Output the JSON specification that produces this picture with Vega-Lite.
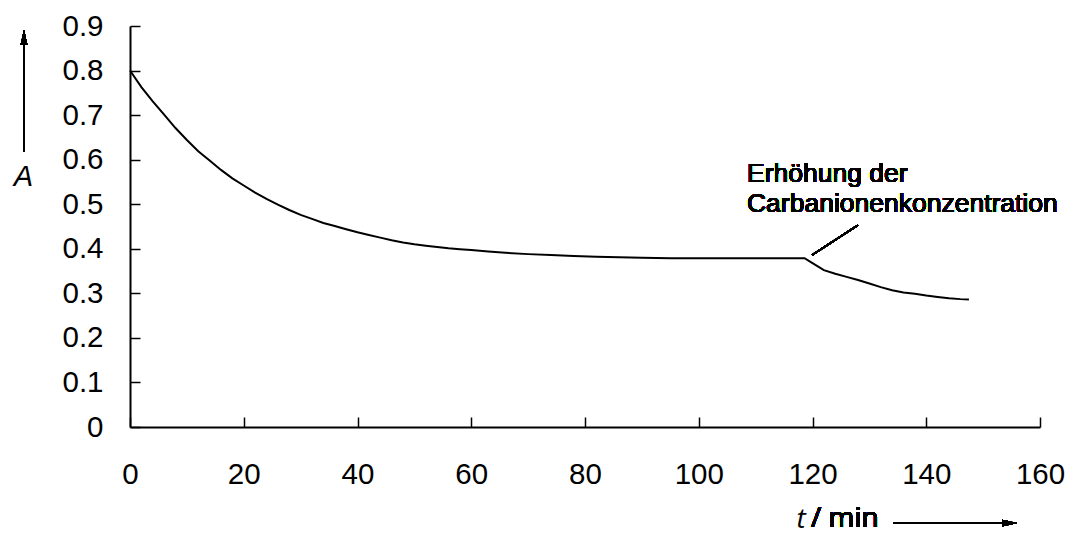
{
  "$schema": "https://vega.github.io/schema/vega-lite/v6.json",
  "width": 910,
  "height": 401,
  "autosize": {"type": "none"},
  "padding": {"left": 130, "top": 26, "right": 29, "bottom": 108},
  "background": "white",
  "config": {
    "view": {"stroke": null},
    "font": "Liberation Sans",
    "axis": {
      "grid": false,
      "domainColor": "black",
      "domainWidth": 2,
      "tickColor": "black",
      "tickWidth": 1.5,
      "tickSize": -10,
      "labelColor": "black",
      "labelFont": "Liberation Sans",
      "labelFontSize": 29.5,
      "labelFlush": false,
      "labelOverlap": false,
      "titleColor": "black",
      "titleFont": "Liberation Sans",
      "titleFontSize": 29,
      "titleFontWeight": "normal",
      "titleFontStyle": "italic"
    }
  },
  "data": {
    "values": [
      {"t": 0, "A": 0.800}, {"t": 2, "A": 0.763}, {"t": 4, "A": 0.731}, {"t": 6, "A": 0.701},
      {"t": 8, "A": 0.671}, {"t": 10, "A": 0.644}, {"t": 12, "A": 0.619}, {"t": 14, "A": 0.598},
      {"t": 16, "A": 0.577}, {"t": 18, "A": 0.558}, {"t": 20, "A": 0.542}, {"t": 22, "A": 0.526},
      {"t": 24, "A": 0.512}, {"t": 26, "A": 0.499}, {"t": 28, "A": 0.487}, {"t": 30, "A": 0.476},
      {"t": 32, "A": 0.467}, {"t": 34, "A": 0.458}, {"t": 36, "A": 0.451}, {"t": 38, "A": 0.444},
      {"t": 40, "A": 0.437}, {"t": 42, "A": 0.431}, {"t": 44, "A": 0.425}, {"t": 46, "A": 0.419},
      {"t": 48, "A": 0.414}, {"t": 50, "A": 0.410}, {"t": 52, "A": 0.407}, {"t": 54, "A": 0.404},
      {"t": 56, "A": 0.401}, {"t": 58, "A": 0.399}, {"t": 60, "A": 0.397}, {"t": 63, "A": 0.394},
      {"t": 66, "A": 0.391}, {"t": 70, "A": 0.388}, {"t": 74, "A": 0.386}, {"t": 78, "A": 0.384},
      {"t": 82, "A": 0.382}, {"t": 86, "A": 0.381}, {"t": 90, "A": 0.380}, {"t": 95, "A": 0.379},
      {"t": 100, "A": 0.379}, {"t": 105, "A": 0.379}, {"t": 110, "A": 0.379}, {"t": 115, "A": 0.379},
      {"t": 118.6, "A": 0.379}, {"t": 120, "A": 0.368}, {"t": 122, "A": 0.352}, {"t": 124, "A": 0.344},
      {"t": 126, "A": 0.337}, {"t": 128, "A": 0.330}, {"t": 130, "A": 0.322}, {"t": 132, "A": 0.314},
      {"t": 134, "A": 0.307}, {"t": 136, "A": 0.302}, {"t": 138, "A": 0.299}, {"t": 140, "A": 0.295},
      {"t": 142, "A": 0.292}, {"t": 144, "A": 0.289}, {"t": 146, "A": 0.287}, {"t": 147.5, "A": 0.286}
    ]
  },
  "layer": [
    {
      "mark": {"type": "line", "color": "black", "strokeWidth": 2},
      "encoding": {
        "x": {
          "field": "t", "type": "quantitative",
          "scale": {"domain": [0, 160], "nice": false, "zero": false},
          "axis": {
            "values": [0, 20, 40, 60, 80, 100, 120, 140, 160],
            "labelPadding": 43,
            "title": "t",
            "titleFont": "Open Sans",
            "titleFontSize": 28,
            "titleX": 666,
            "titleY": 100,
            "titleAlign": "left",
            "titleBaseline": "alphabetic",
            "titleAngle": 0
          }
        },
        "y": {
          "field": "A", "type": "quantitative",
          "scale": {"domain": [0, 0.9], "nice": false, "zero": false},
          "axis": {
            "values": [0, 0.1, 0.2, 0.3, 0.4, 0.5, 0.6, 0.7, 0.8, 0.9],
            "format": ".1~f",
            "labelPadding": 37,
            "title": "A",
            "titleAngle": 0,
            "titleX": -107,
            "titleY": 159,
            "titleAlign": "center",
            "titleBaseline": "alphabetic"
          }
        }
      }
    },
    {
      "mark": {"type": "text", "align": "left", "baseline": "alphabetic", "fontSize": 28, "font": "Open Sans", "color": "black"},
      "encoding": {
        "x": {"datum": 119.74, "type": "quantitative"},
        "y": {"datum": -0.2244, "type": "quantitative"},
        "text": {"value": "/ min"}
      }
    },
    {
      "mark": {"type": "rule", "color": "black", "strokeWidth": 1.5},
      "encoding": {
        "x": {"datum": 134.3, "type": "quantitative"},
        "x2": {"datum": 154.6},
        "y": {"datum": -0.2155, "type": "quantitative"}
      }
    },
    {
      "mark": {"type": "point", "shape": "M1,0L-1,-0.45L-1,0.45Z", "filled": true, "color": "black", "opacity": 1, "size": 225},
      "encoding": {
        "x": {"datum": 154.64, "type": "quantitative"},
        "y": {"datum": -0.2155, "type": "quantitative"}
      }
    },
    {
      "mark": {"type": "rule", "color": "black", "strokeWidth": 1.5},
      "encoding": {
        "x": {"datum": -18.64, "type": "quantitative"},
        "y": {"datum": 0.617, "type": "quantitative"},
        "y2": {"datum": 0.87}
      }
    },
    {
      "mark": {"type": "point", "shape": "M0,-1L-0.45,1L0.45,1Z", "filled": true, "color": "black", "opacity": 1, "size": 225},
      "encoding": {
        "x": {"datum": -18.64, "type": "quantitative"},
        "y": {"datum": 0.874, "type": "quantitative"}
      }
    },
    {
      "mark": {"type": "text", "align": "left", "baseline": "alphabetic", "fontSize": 26.5, "lineHeight": 30, "font": "Liberation Sans", "color": "black"},
      "encoding": {
        "x": {"datum": 108.48, "type": "quantitative"},
        "y": {"datum": 0.5494, "type": "quantitative"},
        "text": {"value": ["Erhöhung der", "Carbanionenkonzentration"]}
      }
    },
    {
      "mark": {"type": "rule", "color": "black", "strokeWidth": 1.5},
      "encoding": {
        "x": {"datum": 119.9, "type": "quantitative"},
        "y": {"datum": 0.386, "type": "quantitative"},
        "x2": {"datum": 128.0},
        "y2": {"datum": 0.4533}
      }
    }
  ]
}
